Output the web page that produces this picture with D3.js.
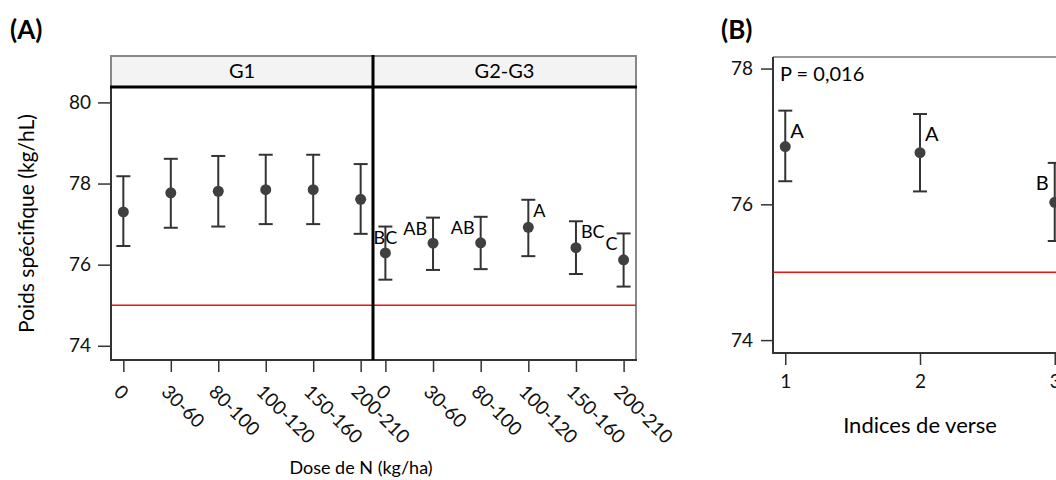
<!DOCTYPE html>
<html>
<head>
<meta charset="utf-8">
<script src="https://cdn.jsdelivr.net/npm/d3@7"></script>
<style>
  body { margin: 0; background: #fff; }
  svg { font-family: Lato, "Open Sans", sans-serif; }
  .tick text { fill: #111; }
</style>
</head>
<body>
<div id="chart"></div>
<script>
// Panel A data: N dose categories per group
const doses = ["0", "30-60", "80-100", "100-120", "150-160", "200-210"];
const groups = ["G1", "G2-G3"];
const g1Mean = [77.30, 77.77, 77.81, 77.85, 77.85, 77.61];
const g1Low  = [76.46, 76.91, 76.94, 77.00, 77.00, 76.76];
const g1High = [78.18, 78.61, 78.68, 78.71, 78.71, 78.48];
const g2Mean = [76.29, 76.53, 76.54, 76.92, 76.42, 76.12];
const g2Low  = [75.63, 75.87, 75.89, 76.21, 75.77, 75.46];
const g2High = [76.94, 77.16, 77.18, 77.60, 77.07, 76.77];
const g2Letters = ["BC", "AB", "AB", "A", "BC", "C"];
const g2LetterSide = ["center", "left", "left", "right", "right", "left"];
const yTicksA = [74, 76, 78, 80];

// Panel B data: lodging index
const indices = [1, 2, 3];
const bMean = [76.85, 76.76, 76.03];
const bLow  = [76.34, 76.19, 75.46];
const bHigh = [77.38, 77.33, 76.61];
const bLetters = ["A", "A", "B"];
const bLetterSide = ["right", "right", "left"];
const yTicksB = [74, 76, 78];

const threshold = 75;

const svg = d3.select("#chart").append("svg")
    .attr("width", 1056)
    .attr("height", 480);

// ---------- Panel A ----------
const A = { left: 111, right: 636, stripTop: 56, top: 87, bottom: 360, split: 373 };

const yA = d3.scaleLinear().domain([73.65, 80.38]).range([A.bottom, A.top]);
const facetX = [
    d3.scalePoint().domain(doses).range([A.left, A.split]).padding(0.26),
    d3.scalePoint().domain(doses).range([A.split, A.right]).padding(0.26)
];
const facetData = [
    doses.map((d, i) => ({ dose: d, mean: g1Mean[i], low: g1Low[i], high: g1High[i], letter: null })),
    doses.map((d, i) => ({ dose: d, mean: g2Mean[i], low: g2Low[i], high: g2High[i], letter: g2Letters[i], side: g2LetterSide[i] }))
];

svg.append("text")
    .attr("x", 10).attr("y", 39)
    .attr("font-size", 26).attr("font-weight", "bold")
    .text("(A)");

// panel frame + strips
svg.append("rect")
    .attr("x", A.left).attr("y", A.top)
    .attr("width", A.right - A.left).attr("height", A.bottom - A.top)
    .attr("fill", "none").attr("stroke", "#888").attr("stroke-width", 2);

groups.forEach((g, k) => {
    const x0 = k === 0 ? A.left : A.split;
    const x1 = k === 0 ? A.split : A.right;
    svg.append("rect")
        .attr("x", x0).attr("y", A.stripTop)
        .attr("width", x1 - x0).attr("height", A.top - A.stripTop)
        .attr("fill", "#f3f3f3").attr("stroke", "#888").attr("stroke-width", 2);
    svg.append("text")
        .attr("x", (x0 + x1) / 2).attr("y", 78)
        .attr("text-anchor", "middle").attr("font-size", 20)
        .text(g);
});

// threshold line
svg.append("line")
    .attr("x1", A.left).attr("x2", A.right)
    .attr("y1", yA(threshold)).attr("y2", yA(threshold))
    .attr("stroke", "#ee1111").attr("stroke-width", 1.5);

svg.append("line")
    .attr("x1", A.left).attr("x2", A.left)
    .attr("y1", A.top).attr("y2", A.bottom + 1)
    .attr("stroke", "#333").attr("stroke-width", 2);
svg.append("line")
    .attr("x1", A.left).attr("x2", A.right + 1)
    .attr("y1", A.bottom).attr("y2", A.bottom)
    .attr("stroke", "#333").attr("stroke-width", 2);
svg.append("line")
    .attr("x1", A.left - 1).attr("x2", A.right + 1)
    .attr("y1", A.top).attr("y2", A.top)
    .attr("stroke", "#000").attr("stroke-width", 3);
svg.append("line")
    .attr("x1", A.split).attr("x2", A.split)
    .attr("y1", A.stripTop - 1).attr("y2", A.bottom)
    .attr("stroke", "#000").attr("stroke-width", 3);

// y axis
const yAxisA = svg.append("g")
    .attr("transform", `translate(${A.left - 1},0)`)
    .call(d3.axisLeft(yA).tickValues(yTicksA).tickFormat(d3.format("d")).tickSize(12).tickPadding(7));
yAxisA.select(".domain").remove();
yAxisA.selectAll(".tick line").attr("stroke", "#333").attr("stroke-width", 1.5);
yAxisA.selectAll("text").attr("font-size", 19).attr("font-family", "Lato");

svg.append("text")
    .attr("transform", `translate(34,${(A.top + A.bottom) / 2}) rotate(-90)`)
    .attr("text-anchor", "middle").attr("font-size", 21)
    .text("Poids spécifique (kg/hL)");

// x axes per facet
facetX.forEach(x => {
    const ax = svg.append("g")
        .attr("transform", `translate(0,${A.bottom + 1})`)
        .call(d3.axisBottom(x).tickSize(11).tickPadding(0));
    ax.select(".domain").remove();
    ax.selectAll(".tick line").attr("stroke", "#333").attr("stroke-width", 1.5);
    ax.selectAll("text")
        .attr("font-size", 19).attr("font-family", "Lato")
        .attr("text-anchor", "start")
        .attr("dy", null).attr("y", null)
        .attr("transform", "translate(-11,32) rotate(45)");
});

svg.append("text")
    .attr("x", 361).attr("y", 474)
    .attr("text-anchor", "middle").attr("font-size", 18)
    .text("Dose de N (kg/ha)");

// error bars + points
function drawPoints(g, data, x, y, key, letterOffset, letterSize) {
    const cap = 7;
    const sel = g.selectAll(".pt").data(data).join("g").attr("class", "pt");
    sel.append("line")
        .attr("x1", d => x(d[key])).attr("x2", d => x(d[key]))
        .attr("y1", d => y(d.low)).attr("y2", d => y(d.high))
        .attr("stroke", "#333").attr("stroke-width", 2);
    sel.append("line")
        .attr("x1", d => x(d[key]) - cap).attr("x2", d => x(d[key]) + cap)
        .attr("y1", d => y(d.high)).attr("y2", d => y(d.high))
        .attr("stroke", "#333").attr("stroke-width", 2);
    sel.append("line")
        .attr("x1", d => x(d[key]) - cap).attr("x2", d => x(d[key]) + cap)
        .attr("y1", d => y(d.low)).attr("y2", d => y(d.low))
        .attr("stroke", "#333").attr("stroke-width", 2);
    sel.append("circle")
        .attr("cx", d => x(d[key])).attr("cy", d => y(d.mean))
        .attr("r", 5.5).attr("fill", "#404040");
    sel.filter(d => d.letter)
        .append("text")
        .attr("x", d => x(d[key]) + (d.side === "right" ? 5 : d.side === "left" ? -6 : 0))
        .attr("y", d => y(d.high) + letterOffset)
        .attr("text-anchor", d => d.side === "right" ? "start" : d.side === "left" ? "end" : "middle")
        .attr("font-size", letterSize)
        .text(d => d.letter);
}

facetData.forEach((data, k) => {
    drawPoints(svg.append("g"), data, facetX[k], yA, "dose", 17, 18);
});

// ---------- Panel B ----------
const B = { left: 773, top: 57, bottom: 353 };
const xB = d3.scalePoint().domain(indices).range([B.left, 1067]).padding(0.091);
const yB = d3.scaleLinear().domain([73.81, 78.17]).range([B.bottom, B.top]);
const bData = indices.map((d, i) => ({ idx: d, mean: bMean[i], low: bLow[i], high: bHigh[i], letter: bLetters[i], side: bLetterSide[i] }));

svg.append("text")
    .attr("x", 721).attr("y", 39)
    .attr("font-size", 26).attr("font-weight", "bold")
    .text("(B)");

svg.append("line")
    .attr("x1", B.left).attr("x2", 1060)
    .attr("y1", B.top).attr("y2", B.top)
    .attr("stroke", "#777").attr("stroke-width", 1.5);
svg.append("line")
    .attr("x1", B.left).attr("x2", B.left)
    .attr("y1", B.top).attr("y2", B.bottom + 1)
    .attr("stroke", "#333").attr("stroke-width", 2);
svg.append("line")
    .attr("x1", B.left).attr("x2", 1060)
    .attr("y1", B.bottom).attr("y2", B.bottom)
    .attr("stroke", "#333").attr("stroke-width", 2);

svg.append("line")
    .attr("x1", B.left).attr("x2", 1060)
    .attr("y1", yB(threshold)).attr("y2", yB(threshold))
    .attr("stroke", "#ee1111").attr("stroke-width", 1.5);

const yAxisB = svg.append("g")
    .attr("transform", `translate(${B.left - 1},0)`)
    .call(d3.axisLeft(yB).tickValues(yTicksB).tickFormat(d3.format("d")).tickSize(11).tickPadding(8));
yAxisB.select(".domain").remove();
yAxisB.selectAll(".tick line").attr("stroke", "#333").attr("stroke-width", 1.5);
yAxisB.selectAll("text").attr("font-size", 19).attr("font-family", "Lato");

const xAxisB = svg.append("g")
    .attr("transform", `translate(0,${B.bottom + 1})`)
    .call(d3.axisBottom(xB).tickSize(11).tickPadding(10));
xAxisB.select(".domain").remove();
xAxisB.selectAll(".tick line").attr("stroke", "#333").attr("stroke-width", 1.5);
xAxisB.selectAll("text").attr("font-size", 19).attr("font-family", "Lato");

svg.append("text")
    .attr("x", 780).attr("y", 81)
    .attr("font-size", 20)
    .text("P = 0,016");

svg.append("text")
    .attr("x", xB(2)).attr("y", 433)
    .attr("text-anchor", "middle").attr("font-size", 22)
    .text("Indices de verse");

drawPoints(svg.append("g"), bData, xB, yB, "idx", 27, 20);
</script>
</body>
</html>
